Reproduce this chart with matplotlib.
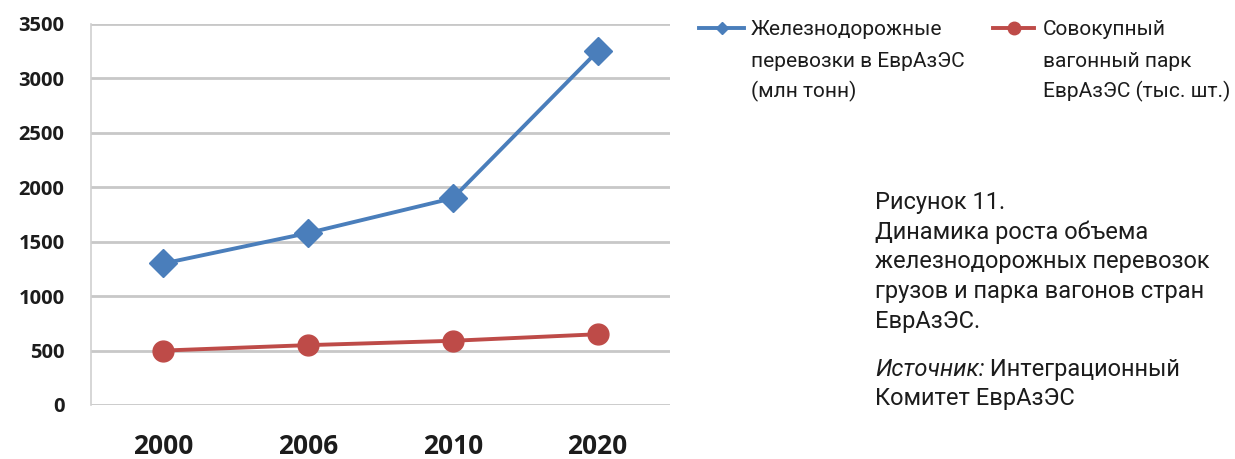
import matplotlib
matplotlib.use("Agg")
import matplotlib.pyplot as plt
from matplotlib.lines import Line2D

years = ["2000", "2006", "2010", "2020"]
rail_freight = [1300, 1580, 1900, 3250]      # млн тонн
wagon_fleet = [500, 550, 590, 650]           # тыс. шт.
y_ticks = [0, 500, 1000, 1500, 2000, 2500, 3000, 3500]

legend_labels = [
    ["Железнодорожные", "перевозки в ЕврАзЭС", "(млн тонн)"],
    ["Совокупный", "вагонный парк", "ЕврАзЭС (тыс. шт.)"],
]
caption_lines = [
    "Рисунок 11.",
    "Динамика роста объема",
    "железнодорожных перевозок",
    "грузов и парка вагонов стран",
    "ЕврАзЭС.",
]
source_label = "Источник:"
source_lines = [" Интеграционный", "Комитет ЕврАзЭС"]

BLUE = "#4a7ebb"
RED = "#be4b48"
TEXT = "#1c1c1c"
GRID = "#c8c8c8"
FONT = "Roboto"

W, H = 1235, 459
fig = plt.figure(figsize=(W / 100, H / 100), dpi=100)
fig.patch.set_facecolor("white")

# axes box placed in pixel units
ax = fig.add_axes([91 / W, (H - 405) / H, (670 - 91) / W, (405 - 24) / H])
x = list(range(len(years)))
ax.plot(x, rail_freight, color=BLUE, lw=2.8, marker="D", ms=14,
        markerfacecolor=BLUE, markeredgecolor=BLUE, zorder=3)
ax.plot(x, wagon_fleet, color=RED, lw=2.8, marker="o", ms=15,
        markerfacecolor=RED, markeredgecolor=RED, zorder=3)

ax.set_xlim(-0.5, len(years) - 0.5)
ax.set_ylim(0, 3500)
ax.set_yticks(y_ticks)
ax.set_xticks(x)
ax.set_xticklabels(years)
ax.grid(axis="y", color=GRID, lw=2.0)
ax.set_axisbelow(True)
for side in ("top", "right", "bottom"):
    ax.spines[side].set_visible(False)
ax.spines["left"].set_color("#d0d0d0")
ax.spines["left"].set_linewidth(1.2)
ax.tick_params(axis="both", length=0)
ax.tick_params(axis="y", pad=19)
ax.tick_params(axis="x", pad=20)
for lab in ax.get_yticklabels():
    lab.set_fontfamily("Open Sans")
    lab.set_fontweight("bold")
    lab.set_fontsize(14.5)
    lab.set_color(TEXT)
for lab in ax.get_xticklabels():
    lab.set_fontfamily("Open Sans")
    lab.set_fontweight("bold")
    lab.set_fontsize(19)
    lab.set_color(TEXT)


def px(xp, yp):
    return xp / W, 1 - yp / H


def text_lines(x0, baselines, lines, size, **kw):
    for b, s in zip(baselines, lines):
        xf, yf = px(x0, b)
        fig.text(xf, yf, s, ha="left", va="baseline", fontsize=size,
                 fontfamily=FONT, color=TEXT, **kw)


# legend entries
legend_base = [35, 67, 97]
for (x0, x1, tx), color, marker, ms, label in [
    ((699, 744, 751), BLUE, "D", 6, legend_labels[0]),
    ((993, 1034, 1043), RED, "o", 9, legend_labels[1]),
]:
    xa, ya = px(x0, 28)
    xb, _ = px(x1, 28)
    fig.add_artist(Line2D([xa, xb], [ya, ya], transform=fig.transFigure,
                          color=color, lw=2.8))
    fig.add_artist(Line2D([(xa + xb) / 2], [ya], transform=fig.transFigure,
                          color=color, marker=marker, ms=ms, lw=0))
    text_lines(tx, legend_base, label, 15)

# caption
CAP = 17
text_lines(875, [209, 239, 268, 298, 328], caption_lines, CAP)

sx, sy = px(875, 376)
t = fig.text(sx, sy, source_label, ha="left", va="baseline", fontsize=CAP,
             fontfamily=FONT, fontstyle="italic", color=TEXT)
fig.canvas.draw()
bb = t.get_window_extent()
fig.text(bb.x1 / W, sy, source_lines[0], ha="left", va="baseline",
         fontsize=CAP, fontfamily=FONT, color=TEXT)
text_lines(875, [405], source_lines[1:], CAP)

fig.savefig("out.png", dpi=100)
